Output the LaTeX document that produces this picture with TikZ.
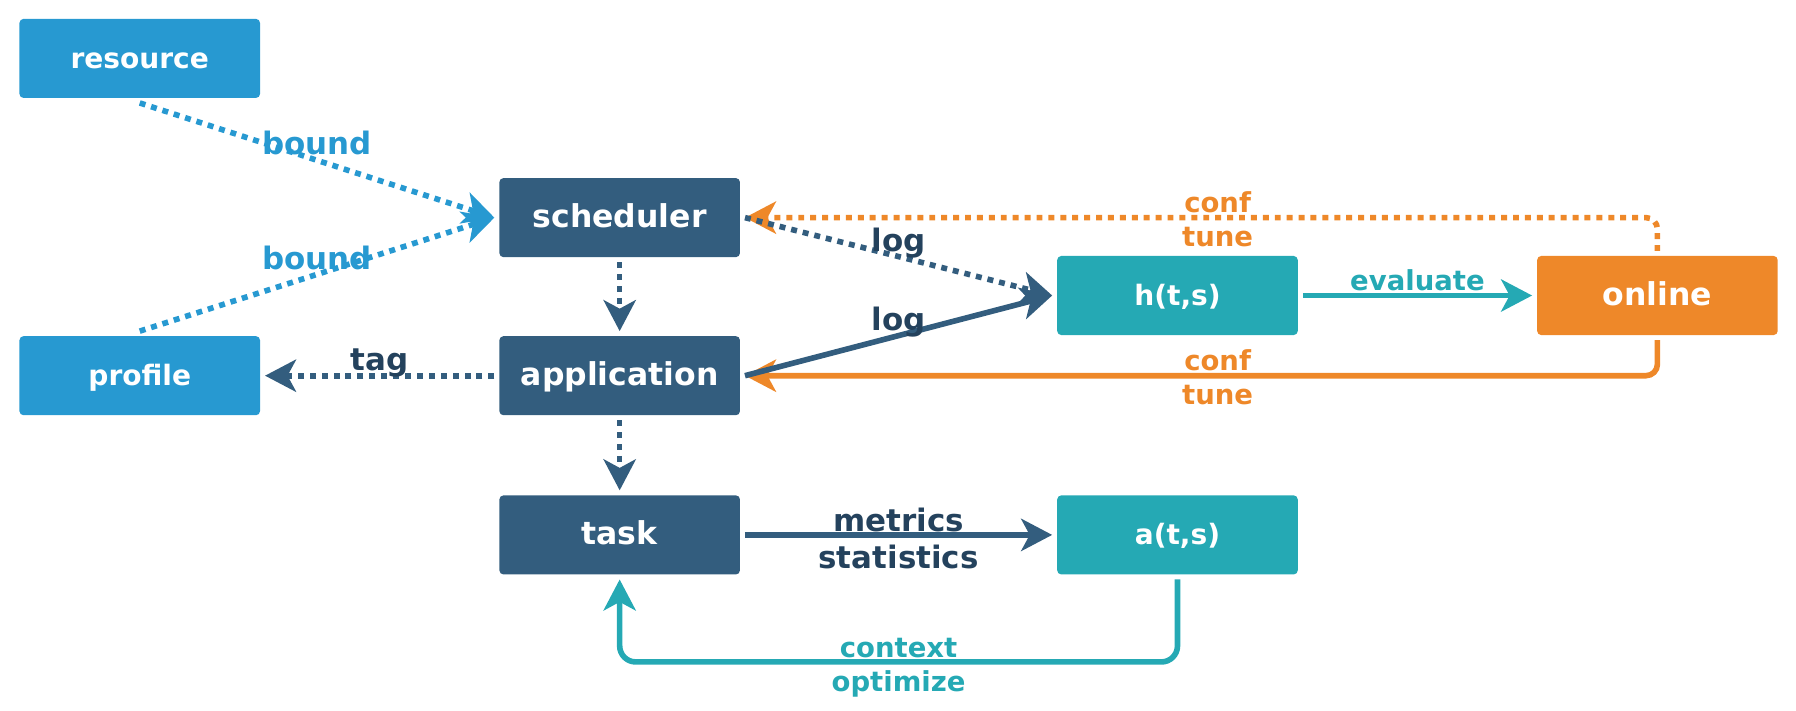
\documentclass[tikz,border=0pt]{standalone}
\usepackage{fontspec}
\setmainfont{DejaVu Sans}
\usetikzlibrary{arrows.meta}
\definecolor{navy}{HTML}{335D7E}
\definecolor{navytext}{HTML}{24425D}
\definecolor{skyblue}{HTML}{2799D1}
\definecolor{teal}{HTML}{25A9B4}
\definecolor{orange}{HTML}{EE8829}
\begin{document}
\begin{tikzpicture}[x=0.5pt,y=-0.5pt,
  box/.style={rectangle, rounded corners=1.75pt, minimum width=105pt, minimum height=34.5pt,
    outer sep=2.2pt, inner sep=0pt, text=white, text height=1em, text depth=0.14em},
  bigtxt/.style={font=\bfseries\fontsize{13.75}{16}\selectfont},
  smalltxt/.style={font=\bfseries\fontsize{12.25}{14}\selectfont},
  con/.style={line width=2.45pt, -{Stealth[length=13.5pt,width=14pt,inset=3.7pt]}},
  dots/.style={dash pattern=on 2.6pt off 2.6pt},
  lab/.style={inner sep=0pt, text height=0.76em, text depth=0pt},
  labbig/.style={lab, font=\bfseries\fontsize{13.5}{16}\selectfont},
  labsmall/.style={lab, font=\bfseries\fontsize{12}{14}\selectfont},
  abv/.style={anchor=south, yshift=1pt},
  blw/.style={anchor=north, yshift=-3.7pt},
]
\useasboundingbox (0,0) rectangle (1568,620);

\node[box, smalltxt, fill=skyblue] (resource) at (122,51) {resource};
\node[box, smalltxt, fill=skyblue] (profile) at (122,328) {profile};
\node[box, bigtxt, fill=navy] (scheduler) at (541,190) {scheduler};
\node[box, bigtxt, fill=navy] (application) at (541,328) {application};
\node[box, bigtxt, fill=navy] (task) at (541,467) {task};
\node[box, smalltxt, fill=teal] (h) at (1028,258) {h(t,s)};
\node[box, smalltxt, fill=teal] (a) at (1028,467) {a(t,s)};
\node[box, bigtxt, fill=orange] (online) at (1447,258) {online};

% light blue bound edges
\draw[con, dots, skyblue] (resource.south) -- node[labbig, anchor=south, yshift=1.1pt, text=skyblue] {bound} (scheduler.west);
\draw[con, dots, skyblue] (profile.north) -- node[labbig, anchor=south, yshift=1.1pt, text=skyblue] {bound} (scheduler.west);

% orange conf/tune edges
\draw[con, dots, orange, rounded corners=5pt] (online.north) |-
  node[pos=0.741, labsmall, abv, text=orange] {conf}
  node[pos=0.741, labsmall, blw, text=orange] {tune} (scheduler.east);
\draw[con, orange, rounded corners=5pt] (online.south) |-
  node[pos=0.741, labsmall, abv, text=orange] {conf}
  node[pos=0.741, labsmall, blw, text=orange] {tune} (application.east);

% navy edges
\draw[con, dots, navy] (scheduler.south) -- (application.north);
\draw[con, dots, navy] (application.south) -- (task.north);
\draw[con, dots, navy] (application.west) -- node[labbig, abv, text=navytext] {tag} (profile.east);
\draw[con, dots, navy] (scheduler.east) -- node[labbig, abv, text=navytext] {log} (h.west);
\draw[con, navy] (application.east) -- node[labbig, abv, text=navytext] {log} (h.west);
\draw[con, navy] (task.east) --
  node[labbig, anchor=south, yshift=0.4pt, text=navytext] {metrics}
  node[labbig, anchor=north, yshift=-6pt, text=navytext] {statistics} (a.west);

% teal edges
\draw[con, teal] (h.east) -- node[labsmall, abv, text=teal] {evaluate} (online.west);
\draw[con, teal, rounded corners=7pt] (a.south) -- ++(0,72) -|
  node[pos=0.25, labsmall, anchor=south, yshift=0.5pt, text=teal] {context}
  node[pos=0.25, labsmall, anchor=north, yshift=-4.1pt, text=teal] {optimize} (task.south);
\end{tikzpicture}
\end{document}
